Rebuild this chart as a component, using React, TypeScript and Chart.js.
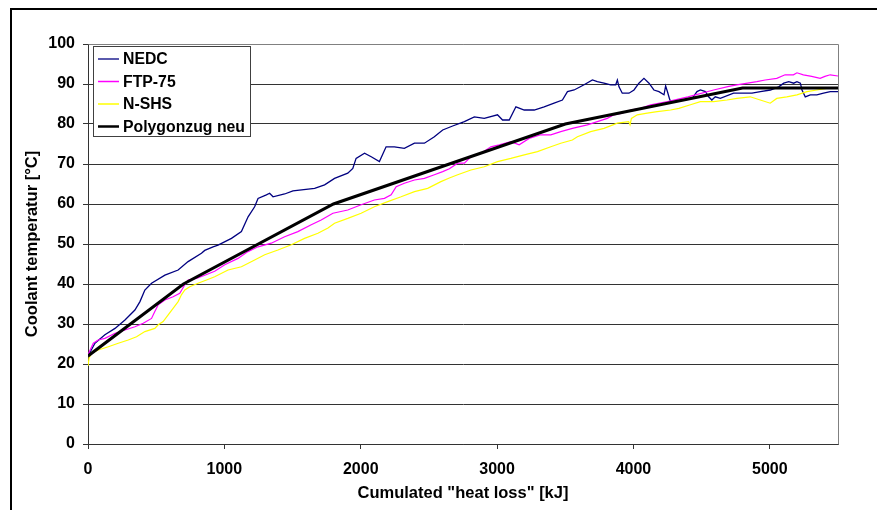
import React, { useEffect, useRef } from "react";
import { Chart, registerables } from "chart.js";

Chart.register(...registerables);

const FONT = "'Liberation Sans', Arial, sans-serif";

const xTickValues = [0, 1000, 2000, 3000, 4000, 5000];

const nedcX = [0, 51, 124, 198, 271, 344, 381, 417, 466, 564, 661, 734, 832, 856, 917, 954, 1052, 1125, 1174, 1222, 1247, 1308, 1332, 1357, 1442, 1503, 1662, 1735, 1808, 1905, 1942, 1966, 2028, 2077, 2137, 2186, 2247, 2320, 2394, 2467, 2540, 2601, 2674, 2760, 2833, 2906, 3003, 3040, 3089, 3138, 3199, 3272, 3345, 3418, 3479, 3516, 3565, 3638, 3699, 3735, 3784, 3833, 3870, 3882, 3894, 3918, 3967, 4004, 4040, 4077, 4114, 4150, 4187, 4224, 4236, 4250, 4267, 4284, 4370, 4431, 4466, 4491, 4528, 4551, 4575, 4600, 4637, 4734, 4783, 4869, 4931, 5004, 5065, 5102, 5139, 5175, 5199, 5224, 5236, 5260, 5297, 5345, 5394, 5443, 5500];
const nedcY = [22, 25.2, 27.3, 28.9, 31, 33.5, 35.6, 38.5, 40.2, 42.2, 43.5, 45.6, 47.7, 48.4, 49.3, 49.7, 51.4, 53.1, 56.8, 59.3, 61.4, 62.3, 62.7, 61.8, 62.5, 63.3, 63.9, 64.8, 66.4, 67.7, 68.9, 71.4, 72.7, 71.8, 70.6, 74.3, 74.3, 73.9, 75.2, 75.2, 76.8, 78.5, 79.5, 80.6, 81.8, 81.4, 82.3, 81, 81, 84.3, 83.5, 83.5, 84.3, 85.2, 86, 88.1, 88.5, 89.8, 91, 90.6, 90.2, 89.8, 89.8, 91, 89.3, 87.7, 87.7, 88.5, 90.2, 91.4, 90.2, 88.5, 88.1, 87.3, 89.5, 88, 86, 85.6, 86, 86.4, 88.1, 88.5, 88.1, 86.8, 86, 86.8, 86.4, 87.7, 87.7, 87.7, 88.1, 88.5, 89.3, 90.2, 90.6, 90.2, 90.6, 90.2, 88.5, 86.8, 87.3, 87.3, 87.7, 88.1, 88.1];

const ftpX = [0, 39, 75, 124, 198, 271, 344, 405, 466, 490, 515, 564, 624, 673, 710, 734, 795, 856, 929, 1003, 1100, 1173, 1247, 1344, 1442, 1539, 1637, 1710, 1796, 1905, 2003, 2100, 2174, 2223, 2260, 2320, 2394, 2467, 2540, 2601, 2650, 2711, 2760, 2808, 2882, 2955, 3016, 3101, 3162, 3235, 3321, 3394, 3467, 3552, 3662, 3735, 3808, 3857, 3918, 3979, 4053, 4126, 4250, 4400, 4588, 4700, 4758, 4905, 4966, 5051, 5112, 5173, 5199, 5246, 5307, 5369, 5404, 5443, 5500];
const ftpY = [22.3, 25.2, 26, 26.4, 27.7, 28.5, 29.3, 30.2, 31.4, 33.1, 34.8, 36, 36.8, 37.7, 39.8, 41, 41.4, 42.2, 43.2, 44.8, 46.4, 48.1, 49.3, 50.2, 51.8, 53.1, 54.8, 56, 57.7, 58.5, 59.8, 61, 61.4, 62.3, 64.3, 65.2, 66, 66.4, 67.3, 68.1, 68.8, 70.2, 70.2, 71.8, 72.7, 74.3, 74.8, 75.6, 74.8, 76.4, 77.3, 77.3, 78.1, 78.9, 79.8, 80.6, 81.4, 82.3, 82.7, 83.5, 83.9, 84.8, 85.6, 86.8, 88.5, 89.4, 89.8, 90.6, 91, 91.4, 92.3, 92.3, 92.8, 92.3, 91.9, 91.4, 91.9, 92.3, 92];

const shsX = [0, 8, 27, 75, 149, 222, 295, 356, 417, 490, 515, 551, 588, 624, 661, 685, 710, 746, 807, 869, 929, 1027, 1125, 1222, 1296, 1393, 1491, 1588, 1686, 1760, 1808, 1905, 2003, 2100, 2198, 2296, 2394, 2491, 2588, 2650, 2711, 2808, 2906, 3003, 3101, 3199, 3296, 3394, 3467, 3552, 3589, 3686, 3784, 3882, 3965, 3975, 3985, 4028, 4101, 4174, 4272, 4333, 4418, 4491, 4588, 4686, 4759, 4856, 4930, 5003, 5051, 5124, 5199, 5272, 5345, 5418, 5500];
const shsY = [19.5, 21.5, 22.7, 23.5, 24.3, 25.2, 26, 26.8, 28.1, 28.9, 29.8, 30.6, 32.3, 33.9, 35.6, 37.3, 38.5, 39.3, 40.2, 41, 41.8, 43.5, 44.3, 46, 47.3, 48.5, 49.8, 51.4, 52.7, 54, 55.2, 56.4, 57.7, 59.3, 60.6, 61.8, 63.1, 63.9, 65.6, 66.5, 67.3, 68.5, 69.3, 70.6, 71.4, 72.3, 73.1, 74.3, 75.2, 76, 76.8, 78.1, 78.9, 80.2, 80.6, 79.8, 81.4, 82.3, 82.7, 83.1, 83.5, 83.9, 84.8, 85.6, 85.6, 86, 86.4, 86.8, 86, 85.2, 86.4, 86.8, 87.3, 88.1, 88.5, 88.9, 89.1];

const polyX = [0, 700, 1800, 3500, 4800, 5500];
const polyY = [22, 40, 60, 80, 89, 89];

function pts(xs: number[], ys: number[]) {
  return xs.map((x, i) => ({ x, y: ys[i] }));
}

const borderPlugin = {
  id: "plotBorder",
  beforeDatasetsDraw(chart: any) {
    const { ctx, chartArea } = chart;
    ctx.save();
    ctx.strokeStyle = "#808080";
    ctx.lineWidth = 1;
    ctx.beginPath();
    ctx.moveTo(Math.round(chartArea.left) + 0.5, Math.round(chartArea.top) + 0.5);
    ctx.lineTo(Math.round(chartArea.right) + 0.5, Math.round(chartArea.top) + 0.5);
    ctx.lineTo(Math.round(chartArea.right) + 0.5, Math.round(chartArea.bottom) + 0.5);
    ctx.stroke();
    ctx.restore();
  },
};

const legendPlugin = {
  id: "boxLegend",
  afterDraw(chart: any) {
    const { ctx } = chart;
    const bx = 93.5, by = 46.5, bw = 157, bh = 90;
    ctx.save();
    ctx.fillStyle = "#ffffff";
    ctx.fillRect(bx, by, bw, bh);
    ctx.strokeStyle = "#404040";
    ctx.lineWidth = 1;
    ctx.strokeRect(bx, by, bw, bh);
    ctx.font = `bold 15.8px ${FONT}`;
    ctx.textBaseline = "middle";
    ctx.textAlign = "left";
    const rowY = [59, 81.5, 104, 126.5];
    chart.data.datasets.forEach((ds: any, i: number) => {
      const y = rowY[i];
      ctx.strokeStyle = ds.borderColor;
      ctx.lineWidth = ds.legendWidth;
      ctx.beginPath();
      ctx.moveTo(98, y);
      ctx.lineTo(119, y);
      ctx.stroke();
      ctx.fillStyle = "#000";
      ctx.fillText(ds.label, 123, y + 1);
    });
    ctx.restore();
  },
};

export default function App() {
  const ref = useRef<HTMLCanvasElement>(null);

  useEffect(() => {
    const tickFont = { family: FONT, size: 16, weight: "bold" as const };
    const titleFont = { family: FONT, size: 16.5, weight: "bold" as const };
    const chart = new Chart(ref.current!, {
      type: "line",
      data: {
        datasets: [
          { label: "NEDC", data: pts(nedcX, nedcY), borderColor: "#000080", borderWidth: 1.3, legendWidth: 1.3, order: 3 } as any,
          { label: "FTP-75", data: pts(ftpX, ftpY), borderColor: "#FF00FF", borderWidth: 1.2, legendWidth: 1.5, order: 2 } as any,
          { label: "N-SHS", data: pts(shsX, shsY), borderColor: "#FFFF00", borderWidth: 1.2, legendWidth: 1.5, order: 1 } as any,
          { label: "Polygonzug neu", data: pts(polyX, polyY), borderColor: "#000000", borderWidth: 3, legendWidth: 2.5, order: 0 } as any,
        ],
      },
      options: {
        animation: false,
        responsive: false,
        parsing: false as any,
        layout: { padding: { left: 0, top: 44, right: 39, bottom: 0 } },
        elements: { point: { radius: 0 }, line: { tension: 0, fill: false } },
        plugins: { legend: { display: false }, tooltip: { enabled: false } },
        scales: {
          x: {
            type: "linear",
            min: 0,
            max: 5500,
            afterBuildTicks: (s: any) => {
              s.ticks = xTickValues.map((v) => ({ value: v }));
            },
            ticks: {
              font: tickFont,
              color: "#000",
              padding: 11,
              maxRotation: 0,
              autoSkip: false,
              includeBounds: false,
              callback: (v: any) => String(v),
            } as any,
            grid: { drawOnChartArea: false, drawTicks: true, tickLength: 5, color: "#333" },
            border: { color: "#333", width: 1 },
            title: {
              display: true,
              text: 'Cumulated "heat loss" [kJ]',
              font: titleFont,
              color: "#000",
              padding: { top: 0, bottom: 7 },
            },
            afterFit: (s: any) => {
              s.height = 66;
            },
          },
          y: {
            type: "linear",
            min: 0,
            max: 100,
            ticks: { stepSize: 10, font: tickFont, color: "#000", padding: 8, callback: (v: any) => String(v) },
            grid: {
              drawTicks: true,
              tickLength: 5,
              color: (c: any) => (c.tick && c.tick.value === 100 ? "#808080" : "#333"),
              tickColor: "#333",
            },
            border: { color: "#333", width: 1 },
            title: {
              display: true,
              text: "Coolant temperatur [°C]",
              font: titleFont,
              color: "#000",
              padding: { top: 23, bottom: 0 },
            },
            afterFit: (s: any) => {
              s.width = 88;
            },
          },
        },
      },
      plugins: [borderPlugin, legendPlugin],
    });
    return () => chart.destroy();
  }, []);

  return (
    <div
      style={{
        position: "absolute",
        left: 0,
        top: 0,
        width: 877,
        height: 510,
        overflow: "hidden",
        background: "#fff",
      }}
    >
      <canvas ref={ref} width={877} height={510} style={{ position: "absolute", left: 0, top: 0 }} />
      <div
        style={{
          position: "absolute",
          left: 10,
          top: 8,
          width: 900,
          height: 600,
          borderLeft: "2px solid #000",
          borderTop: "2px solid #000",
          pointerEvents: "none",
        }}
      />
    </div>
  );
}
